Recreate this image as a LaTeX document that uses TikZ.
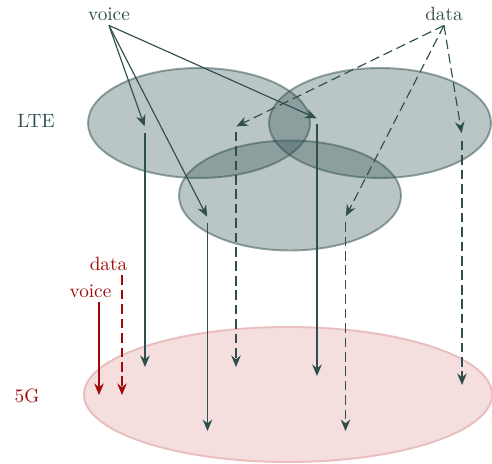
\documentclass[tikz,border=0pt]{standalone}
\usetikzlibrary{arrows.meta}

\definecolor{slate}{RGB}{47,79,79}
\definecolor{nrred}{RGB}{160,10,10}
\definecolor{nrfill}{RGB}{245,222,222}
\definecolor{nrline}{RGB}{234,190,190}

\tikzset{
  lbl/.style={anchor=base, inner sep=2pt, text=slate},
  hub/.style={inner sep=0pt, minimum width=0pt, minimum height=5pt},
  flow/.style={semithick, slate, -{Stealth[length=6pt,width=5pt,inset=2pt]}},
  dflow/.style={flow, dash pattern=on 5pt off 2.5pt},
  cell/.style={fill=slate, fill opacity=0.33, draw=slate, draw opacity=0.5, line width=1pt},
}

\begin{document}
\begin{tikzpicture}[x=0.52pt,y=0.52pt]
    \useasboundingbox (0,0) rectangle (492,464);

    % 5G
    \draw[fill=nrfill, draw=nrline, line width=1pt] (288,69.5) ellipse (204 and 67.5);

    % LTE
    \draw[cell] (199,341) ellipse (111 and 55);
    \draw[cell] (380,341) ellipse (111 and 55);
    \draw[cell] (290,268.5) ellipse (111 and 55);

    \node[lbl] (voice) at (109,443) {voice};
    \node[lbl] (data) at (444,443) {data};
    \node[lbl] (lte) at (36,336) {LTE};
    \node[lbl, text=nrred] (fiveg) at (27,61) {5G};
    \node[lbl, text=nrred] (rdata) at (108.5,193) {data};
    \node[lbl, text=nrred] (rvoice) at (90.5,166) {voice};

    \node[hub] (v1) at (145,336.5) {};
    \node[hub] (v2) at (207.5,246.5) {};
    \node[hub] (v3) at (317,345.5) {};
    \node[hub] (d1) at (236,337.5) {};
    \node[hub] (d2) at (345.5,247) {};
    \node[hub] (d3) at (462,328.5) {};

    \coordinate (v1e) at (145,97);
    \coordinate (v2e) at (208,33);
    \coordinate (v3e) at (317,88);
    \coordinate (d1e) at (236,97);
    \coordinate (d2e) at (345,33);
    \coordinate (d3e) at (462,79);
    \coordinate (rve) at (99,69);
    \coordinate (rde) at (122,69);

    \draw[flow] (voice.south) -- (v1);
    \draw[flow] (voice.south) -- (v2);
    \draw[flow] (voice.south) -- (v3);
    \draw[dflow] (data.south) -- (d1);
    \draw[dflow] (data.south) -- (d2);
    \draw[dflow] (data.south) -- (d3);

    \draw[flow] (v1) -- (v1 |- v1e);
    \draw[flow] (v2) -- (v2 |- v2e);
    \draw[flow] (v3) -- (v3 |- v3e);
    \draw[dflow] (d1) -- (d1 |- d1e);
    \draw[dflow] (d2) -- (d2 |- d2e);
    \draw[dflow] (d3) -- (d3 |- d3e);

    \draw[flow, nrred] (rvoice.south -| rve) -- (rve);
    \draw[dflow, nrred] (rdata.south -| rde) -- (rde);
\end{tikzpicture}
\end{document}
